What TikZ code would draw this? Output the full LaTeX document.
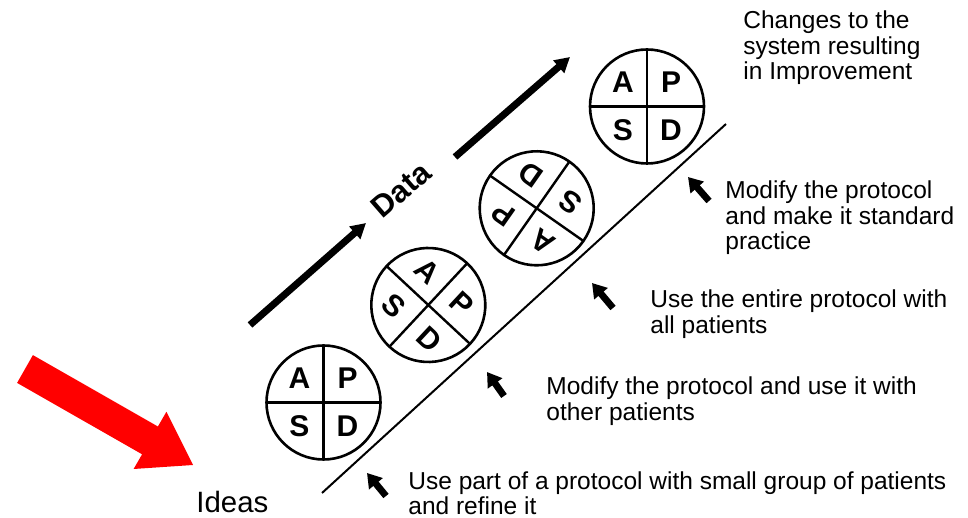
\documentclass[tikz,border=0pt]{standalone}
\usepackage{fontspec}
\setmainfont{Liberation Sans}
\usetikzlibrary{arrows.meta}
\tikzset{
  wheel/.style={circle, draw, line width=1.3pt, minimum size=57pt, inner sep=0pt, outer sep=0pt},
  crossline/.style={line width=1.2pt},
  letter/.style={inner sep=0pt, font=\fontsize{15}{15}\selectfont\bfseries},
  note/.style={anchor=base west, align=left, inner sep=0pt, font=\fontsize{12.25}{12.75}\selectfont},
  dataarrow/.style={line width=3.5pt, -{Triangle[length=7.5pt,width=8pt]}},
  smallarrow/.style={line width=3.4pt, -{Triangle[length=7pt,width=8.5pt]}},
  baseline/.style={line width=1pt}
}
\newcommand\pdsawheel[4]{%
  \node[wheel, rotate=#4] (#1) at (#2,#3) {};
  \draw[crossline] (#1.north) -- (#1.south) (#1.east) -- (#1.west);
  \node[letter, rotate=#4] (#1A) at ([shift={(135+#4:34)}]#1.center) {A};
  \node[letter, rotate=#4] (#1P) at ([shift={(45+#4:34)}]#1.center) {P};
  \node[letter, rotate=#4] (#1S) at ([shift={(225+#4:34)}]#1.center) {S};
  \node[letter, rotate=#4] (#1D) at ([shift={(-45+#4:34)}]#1.center) {D};
}
\begin{document}
\begin{tikzpicture}[x=0.5pt,y=0.5pt]
\useasboundingbox (0,0) rectangle (968,518);
% red arrow
\fill[red] (32.9,162.9) -- (157.9,91.5) -- (166.4,106.2) -- (193,53) -- (133.6,49) -- (142.1,63.7) -- (17.1,135.1) -- cycle;
\node[anchor=base west, inner sep=0pt, font=\fontsize{14.7}{15}\selectfont] (ideas) at (196,5) {Ideas};
% wheels
\pdsawheel{c1}{323.5}{115.5}{0}
\pdsawheel{c2}{428.3}{213}{-43}
\pdsawheel{c3}{536.7}{309.7}{145}
\pdsawheel{c4}{647}{411.5}{0}
% diagonal base line
\coordinate (l0) at (322,25);
\coordinate (l1) at (726,394);
\draw[baseline] (l0) -- (l1);
% data arrows
\coordinate (d1s) at (250,193);
\coordinate (d1e) at (366,295);
\coordinate (d2s) at (455,361);
\coordinate (d2e) at (570,461);
\draw[dataarrow] (d1s) -- (d1e);
\draw[dataarrow] (d2s) -- (d2e);
\node[rotate=41, inner sep=0pt, font=\fontsize{15.5}{16}\selectfont\bfseries] (data) at (401,328) {Data};
% small arrows
\coordinate (a1s) at (386,22);  \coordinate (a1e) at (367,45);
\coordinate (a2s) at (504,122); \coordinate (a2e) at (487,146);
\coordinate (a3s) at (613,210); \coordinate (a3e) at (592,235);
\coordinate (a4s) at (709,317); \coordinate (a4e) at (688,341);
\draw[smallarrow] (a1s) -- (a1e);
\draw[smallarrow] (a2s) -- (a2e);
\draw[smallarrow] (a3s) -- (a3e);
\draw[smallarrow] (a4s) -- (a4e);
% notes (base = baseline of last line)
\node[note] (t1) at (743,438) {Changes to the\\system resulting\\in Improvement};
\node[note] (t2) at (725,268) {Modify the protocol\\and make it standard\\practice};
\node[note] (t3) at (650,184.5) {Use the entire protocol with\\all patients};
\node[note] (t4) at (546,97.5) {Modify the protocol and use it with\\other patients};
\node[note] (t5) at (408,3) {Use part of a protocol with small group of patients\\and refine it};
\end{tikzpicture}
\end{document}
